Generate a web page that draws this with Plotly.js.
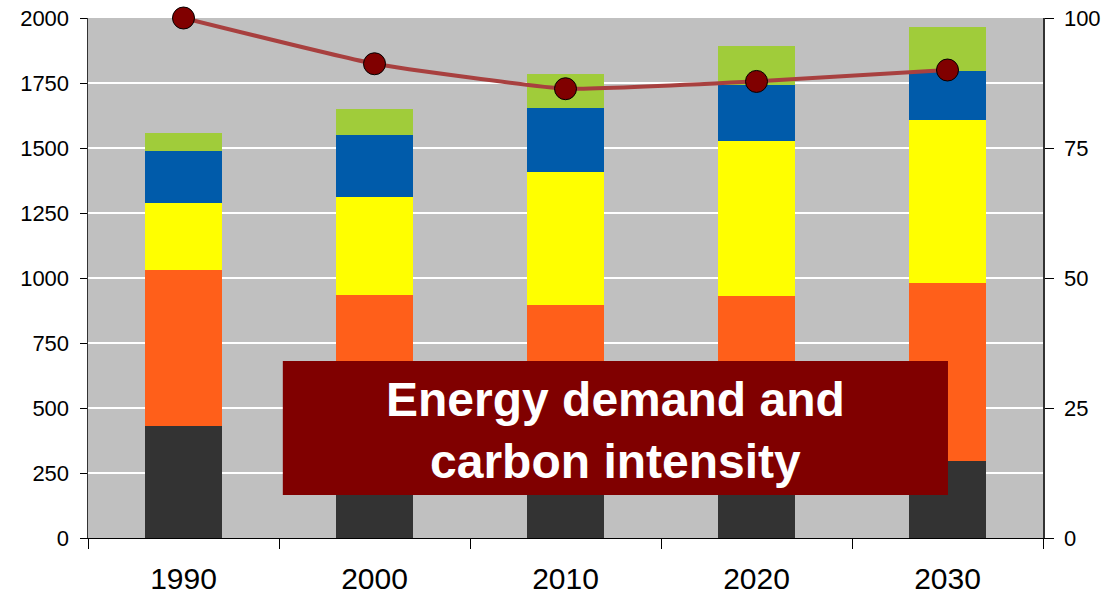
<!DOCTYPE html>
<html>
<head>
<meta charset="utf-8">
<script src="https://cdn.plot.ly/plotly-3.0.1.min.js"></script>
<style>html,body{margin:0;padding:0;background:#fff;}#chart{width:1115px;height:599px;}</style>
</head>
<body>
<div id="chart"></div>
<script>
const years = ["1990", "2000", "2010", "2020", "2030"];
const coal    = [430, 400, 370, 330, 296];
const oil     = [601, 535, 527, 602, 685];
const gas     = [257, 377, 511, 595, 627];
const nuclear = [200, 238, 246, 215, 188];
const renew   = [70, 100, 131, 150, 169];
const carbonIntensity = [100, 91.2, 86.4, 87.8, 90];
const leftTicks = [0, 250, 500, 750, 1000, 1250, 1500, 1750, 2000];
const rightTicks = [0, 25, 50, 75, 100];

const colors = ["#333333", "#FF5F1A", "#FFFF00", "#005BAA", "#A0CC3A"];
const series = [coal, oil, gas, nuclear, renew];
const traces = series.map((vals, i) => ({
  type: "bar", x: years, y: vals, marker: {color: colors[i], line: {width: 0}},
  width: 0.4, hoverinfo: "skip", showlegend: false
}));
traces.push({
  type: "scatter", mode: "lines+markers", x: years, y: carbonIntensity, yaxis: "y2",
  line: {color: "#A8403F", width: 4, shape: "spline", smoothing: 0.4},
  marker: {color: "#800000", size: 22, line: {color: "#000000", width: 1}},
  cliponaxis: false, showlegend: false
});

const layout = {
  width: 1115, height: 599,
  margin: {l: 88, r: 72, t: 18, b: 61},
  paper_bgcolor: "#ffffff", plot_bgcolor: "#C0C0C0",
  barmode: "stack", showlegend: false,
  font: {family: "Liberation Sans, Arial, sans-serif", color: "#000000"},
  xaxis: {
    type: "category", tickson: "boundaries", ticks: "outside", ticklen: 10,
    tickcolor: "#000", showgrid: false, showline: true, linecolor: "#000", linewidth: 1,
    tickfont: {size: 30}, ticklabelstandoff: 14, range: [-0.5, 4.5], zeroline: false
  },
  yaxis: {
    range: [0, 2000], tickvals: leftTicks, ticks: "outside", ticklen: 7, tickcolor: "#000",
    showgrid: true, gridcolor: "#ffffff", gridwidth: 1.5, showline: true, linecolor: "#333",
    linewidth: 1.5, tickfont: {size: 22}, ticklabelstandoff: 6, zeroline: false
  },
  yaxis2: {
    overlaying: "y", side: "right", range: [0, 100], tickvals: rightTicks, ticks: "outside",
    ticklen: 9, tickcolor: "#000", showgrid: false, showline: true, linecolor: "#333",
    linewidth: 1.5, tickfont: {size: 22}, ticklabelstandoff: 6, zeroline: false
  },
  shapes: [{
    type: "rect", xref: "paper", yref: "paper", x0: 0.204, x1: 0.9005, y0: 0.0827, y1: 0.3404,
    fillcolor: "#800000", line: {width: 0}, layer: "above"
  }],
  annotations: [{
    xref: "paper", yref: "paper", x: 0.5523, y: 0.207, xanchor: "center", yanchor: "middle",
    text: "<b>Energy demand and<br>carbon intensity</b>", showarrow: false,
    font: {size: 48, color: "#ffffff", family: "Liberation Sans, Arial, sans-serif"}
  }]
};
Plotly.newPlot("chart", traces, layout, {displayModeBar: false, staticPlot: true});
</script>
</body>
</html>
